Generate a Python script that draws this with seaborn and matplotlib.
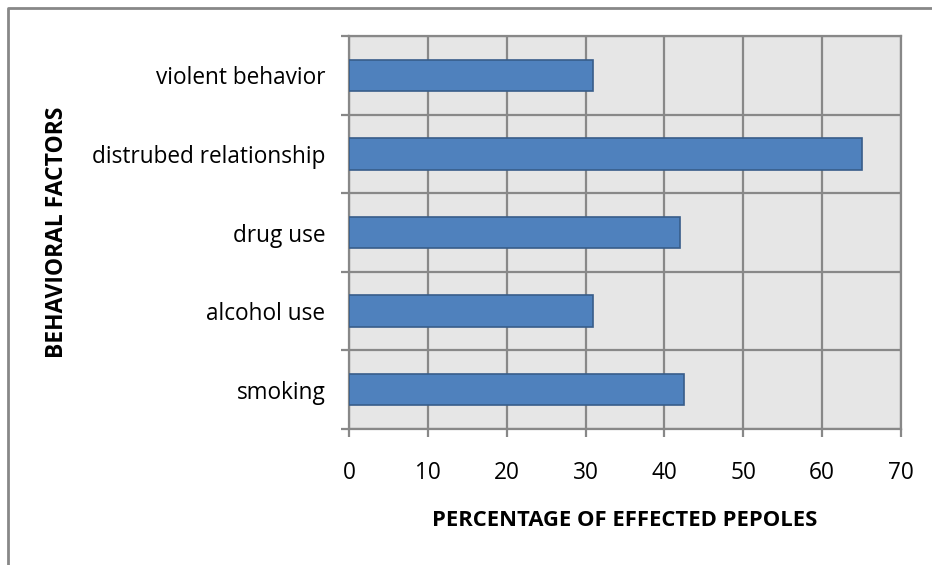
import matplotlib
matplotlib.use("Agg")
import matplotlib.pyplot as plt
from matplotlib.lines import Line2D
import numpy as np
import pandas as pd
import seaborn as sns

factors = ["violent behavior", "distrubed relationship", "drug use", "alcohol use", "smoking"]
percentages = [31, 65, 42, 31, 42.5]
x_ticks = [0, 10, 20, 30, 40, 50, 60, 70]

sns.set_theme(style="white")
plt.rcParams["font.family"] = ["Open Sans", "DejaVu Sans"]

W, H = 932, 565
fig = plt.figure(figsize=(W / 100, H / 100), dpi=100)
fig.patch.set_facecolor("white")

left, right, top, bottom = 349, 901, 36, 429
ax = fig.add_axes([left / W, 1 - bottom / H, (right - left) / W, (bottom - top) / H])

df = pd.DataFrame({"factor": factors, "pct": percentages})
grid_col = "#888888"
ax.set_facecolor("#e6e6e6")

sns.barplot(data=df, x="pct", y="factor", orient="h", color="#4f81bd",
            saturation=1, width=0.4, edgecolor="#385d8a", linewidth=1.2,
            ax=ax, zorder=3)

ax.set_xlim(0, 70)
ax.set_ylim(len(factors) - 0.5, -0.5)
ax.set_xticks(x_ticks)
ax.set_xticklabels([str(t) for t in x_ticks])

ax.set_yticks(np.arange(len(factors)))
ax.set_yticklabels(factors)
ax.set_yticks(np.arange(len(factors) + 1) - 0.5, minor=True)

ax.grid(False)
ax.set_axisbelow(True)
for xv in x_ticks:
    ax.axvline(xv, color=grid_col, lw=1.6, zorder=1)
for yv in np.arange(len(factors) + 1) - 0.5:
    ax.axhline(yv, color=grid_col, lw=1.6, zorder=1)

for sp in ax.spines.values():
    sp.set_visible(True)
    sp.set_color(grid_col)
    sp.set_linewidth(1.6)

ax.tick_params(axis="y", which="major", length=0, pad=17, labelsize=16.3, colors="black")
ax.tick_params(axis="y", which="minor", length=6, width=1.6, color=grid_col, left=True)
ax.tick_params(axis="x", which="major", length=6, width=1.6, color=grid_col,
               pad=17, labelsize=16.3, labelcolor="black", bottom=True)

ax.set_xlabel("PERCENTAGE OF EFFECTED PEPOLES", fontsize=15.8, fontweight="bold",
              labelpad=18, color="black")
ax.set_ylabel("BEHAVIORAL FACTORS", fontsize=16.5, fontweight="bold", color="black",
              va="center")
ax.yaxis.set_label_coords((57 - left) / (right - left), 0.5)

# outer frame of the chart area
fig.add_artist(Line2D([8 / W, 8 / W, 1.0], [0.0, 1 - 8 / H, 1 - 8 / H],
                      transform=fig.transFigure, color="#888888", lw=2))

fig.savefig("out.png", dpi=100)
